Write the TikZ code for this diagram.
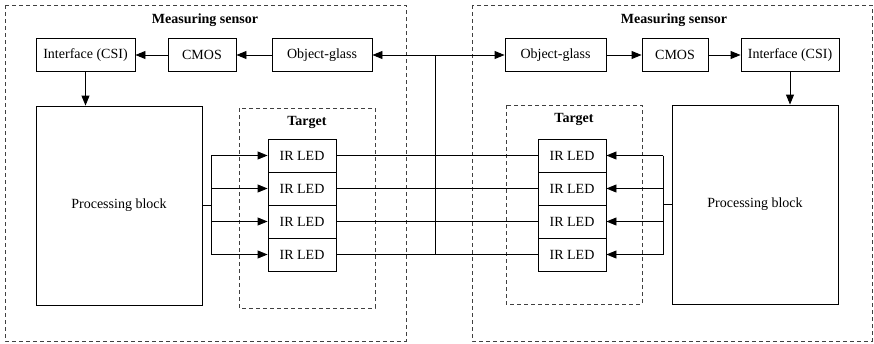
\documentclass[tikz,border=0pt]{standalone}
\usepackage{fontspec}
\setmainfont{Liberation Serif}
\usetikzlibrary{arrows.meta}
\begin{document}
\begin{tikzpicture}[x=1pt, y=-1pt, >={Triangle[length=10pt,width=8pt]}, line width=0.9pt,
	font=\fontsize{14}{16}\selectfont]
	\tikzset{block/.style={draw, minimum height=33pt, inner sep=0pt},
	frame/.style={draw=black!75, line width=0.8pt, dash pattern=on 4pt off 3pt},
	title/.style={font=\fontsize{14}{16}\selectfont\bfseries}}
	\useasboundingbox (0,0) rectangle (874,343);
	% dashed frames
	\draw[frame] (5,5) rectangle (406,341);
	\draw[frame] (472,5) rectangle (872,341);
	\draw[frame] (239,108) rectangle (375,308);
	\draw[frame] (506,105) rectangle (642,304);
	\node[title] (senseL) at (205,20) {Measuring sensor};
	\node[title] (senseR) at (674,20) {Measuring sensor};
	\node[title] (targL) at (307,122) {Target};
	\node[title] (targR) at (574,119) {Target};
	%
	\node[block, minimum width=99pt] (ifL) at (85.5,55) {Interface (CSI)};
	\node[block, minimum width=68pt] (cmosL) at (202,55) {CMOS};
	\node[block, minimum width=100pt] (ogL) at (322,55) {Object-glass};
	\node[block, minimum width=101pt] (ogR) at (555.5,55) {Object-glass};
	\node[block, minimum width=66pt] (cmosR) at (675,55) {CMOS};
	\node[block, minimum width=98pt] (ifR) at (790,55) {Interface (CSI)};
	\node[block, minimum width=166pt, minimum height=199pt] (procL) at (119,205.5) {Processing block};
	\node[block, minimum width=166pt, minimum height=199pt] (procR) at (755,204.5) {Processing block};
	\foreach \i/\y in {1/155.5, 2/188.5, 3/221.5, 4/254.5}{
		\node[block, minimum width=68pt] (ledL\i) at (302,\y) {IR LED};
		\node[block, minimum width=68pt] (ledR\i) at (572,\y) {IR LED};
	}
	%
	\draw[->] (ogL) -- (cmosL);
	\draw[->] (cmosL) -- (ifL);
	\draw[->] (ifL) -- (procL.north -| ifL);
	\draw[->] (ogR) -- (cmosR);
	\draw[->] (cmosR) -- (ifR);
	\draw[->] (ifR) -- (procR.north -| ifR);
	\coordinate (bus) at (435,55);
	\draw[->] (bus) -- (ogL);
	\draw[->] (bus) -- (ogR);
	\draw (bus) -- (bus |- ledL4.east);
	\coordinate (brL) at (211,205.5);
	\coordinate (brR) at (663,204.5);
	\draw (procL.east |- brL) -- (brL);
	\draw (procR.west |- brR) -- (brR);
	\draw (brL |- ledL1.west) -- (brL |- ledL4.west);
	\draw (brR |- ledR1.east) -- (brR |- ledR4.east);
	\foreach \i in {1,...,4}{
		\draw[->] (brL |- ledL\i.west) -- (ledL\i.west);
		\draw[->] (brR |- ledR\i.east) -- (ledR\i.east);
		\draw (ledL\i.east) -- (ledR\i.west);
	}
\end{tikzpicture}
\end{document}
